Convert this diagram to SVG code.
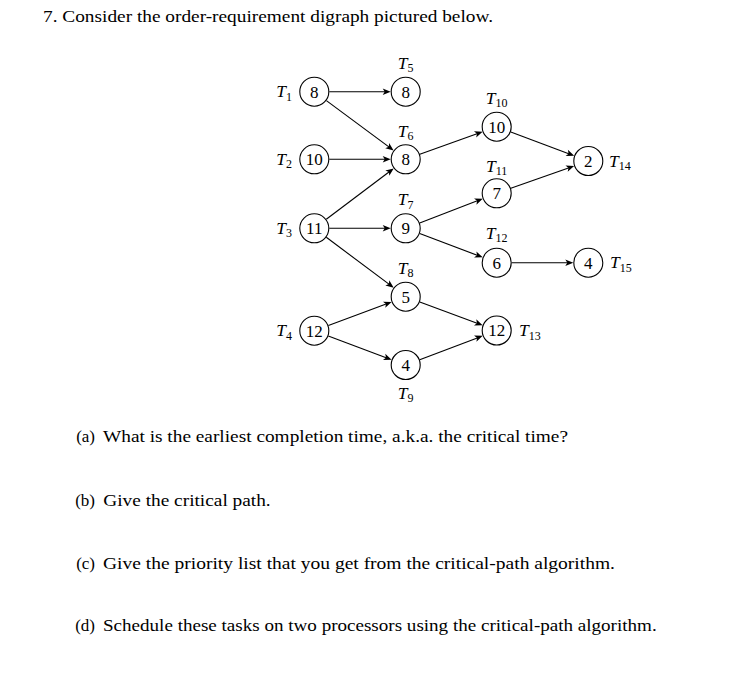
<svg xmlns="http://www.w3.org/2000/svg" width="749" height="697" viewBox="0 0 749 697">
<style>
.txt{font-family:"Liberation Serif","DejaVu Serif",serif;font-size:17px;fill:#000}
.num{font-family:"Liberation Serif","DejaVu Serif",serif;font-size:17px;fill:#000;text-anchor:middle}
.lab{font-family:"Liberation Serif","DejaVu Serif",serif;font-size:17.5px;fill:#000}
.lab .t{font-style:italic}
.lab .s{font-size:12px}
.node circle{fill:#fff;stroke:#000;stroke-width:1.1}
.edges line{stroke:#000;stroke-width:1.1;fill:none}
</style>
<defs>
<marker id="arr" viewBox="-6 -5 10 10" refX="0" refY="0" markerWidth="10" markerHeight="10" markerUnits="userSpaceOnUse" orient="auto">
<path d="M3,0 L-5,-3.3 L-3,0 L-5,3.3 Z" fill="#000"/>
</marker>
</defs>
<rect width="749" height="697" fill="#fff"/>
<text class="txt" x="43" y="22" textLength="450" lengthAdjust="spacingAndGlyphs">7. Consider the order-requirement digraph pictured below.</text>

<g class="edges">
<line x1="329.3" y1="91.7" x2="387.7" y2="91.7" marker-end="url(#arr)"/>
<line x1="326.4" y1="100.6" x2="391.2" y2="148.6" marker-end="url(#arr)"/>
<line x1="329.3" y1="159.3" x2="387.7" y2="159.3" marker-end="url(#arr)"/>
<line x1="326.3" y1="219.3" x2="391.3" y2="170.2" marker-end="url(#arr)"/>
<line x1="329.3" y1="228.3" x2="387.7" y2="228.3" marker-end="url(#arr)"/>
<line x1="326.3" y1="237.3" x2="391.3" y2="285.9" marker-end="url(#arr)"/>
<line x1="328.4" y1="325.5" x2="388.8" y2="303.0" marker-end="url(#arr)"/>
<line x1="328.3" y1="336.0" x2="388.8" y2="358.7" marker-end="url(#arr)"/>
<line x1="419.8" y1="154.2" x2="479.8" y2="132.8" marker-end="url(#arr)"/>
<line x1="419.7" y1="222.9" x2="479.9" y2="199.8" marker-end="url(#arr)"/>
<line x1="419.7" y1="233.6" x2="479.9" y2="256.3" marker-end="url(#arr)"/>
<line x1="510.8" y1="132.0" x2="571.4" y2="154.7" marker-end="url(#arr)"/>
<line x1="510.8" y1="188.3" x2="571.3" y2="167.0" marker-end="url(#arr)"/>
<line x1="511.7" y1="262.7" x2="570.3" y2="262.7" marker-end="url(#arr)"/>
<line x1="419.8" y1="301.9" x2="479.8" y2="324.2" marker-end="url(#arr)"/>
<line x1="419.7" y1="359.7" x2="479.9" y2="336.9" marker-end="url(#arr)"/>
</g>

<g id="T1" class="node"><circle cx="314.3" cy="91.7" r="14.5"/><text class="num" x="314.3" y="97.5">8</text><text class="lab" x="292" y="97" text-anchor="end"><tspan class="t">T</tspan><tspan class="s" dy="3.5">1</tspan></text></g>
<g id="T2" class="node"><circle cx="314.3" cy="159.3" r="14.5"/><text class="num" x="314.3" y="165.1">10</text><text class="lab" x="292" y="164.6" text-anchor="end"><tspan class="t">T</tspan><tspan class="s" dy="3.5">2</tspan></text></g>
<g id="T3" class="node"><circle cx="314.3" cy="228.3" r="14.5"/><text class="num" x="314.3" y="234.1">11</text><text class="lab" x="292" y="233.6" text-anchor="end"><tspan class="t">T</tspan><tspan class="s" dy="3.5">3</tspan></text></g>
<g id="T4" class="node"><circle cx="314.3" cy="330.7" r="14.5"/><text class="num" x="314.3" y="336.5">12</text><text class="lab" x="292" y="336" text-anchor="end"><tspan class="t">T</tspan><tspan class="s" dy="3.5">4</tspan></text></g>

<g id="T5" class="node"><circle cx="405.7" cy="91.7" r="14.5"/><text class="num" x="405.7" y="97.5">8</text><text class="lab" x="405.7" y="68.5" text-anchor="middle"><tspan class="t">T</tspan><tspan class="s" dy="3.5">5</tspan></text></g>
<g id="T6" class="node"><circle cx="405.7" cy="159.3" r="14.5"/><text class="num" x="405.7" y="165.1">8</text><text class="lab" x="405.7" y="136.5" text-anchor="middle"><tspan class="t">T</tspan><tspan class="s" dy="3.5">6</tspan></text></g>
<g id="T7" class="node"><circle cx="405.7" cy="228.3" r="14.5"/><text class="num" x="405.7" y="234.1">9</text><text class="lab" x="405.7" y="205" text-anchor="middle"><tspan class="t">T</tspan><tspan class="s" dy="3.5">7</tspan></text></g>
<g id="T8" class="node"><circle cx="405.7" cy="296.7" r="14.5"/><text class="num" x="405.7" y="302.5">5</text><text class="lab" x="405.7" y="273.5" text-anchor="middle"><tspan class="t">T</tspan><tspan class="s" dy="3.5">8</tspan></text></g>
<g id="T9" class="node"><circle cx="405.7" cy="365" r="14.5"/><text class="num" x="405.7" y="370.8">4</text><text class="lab" x="405.7" y="398.5" text-anchor="middle"><tspan class="t">T</tspan><tspan class="s" dy="3.5">9</tspan></text></g>

<g id="T10" class="node"><circle cx="496.7" cy="126.7" r="14.5"/><text class="num" x="496.7" y="132.5">10</text><text class="lab" x="496.7" y="103.5" text-anchor="middle"><tspan class="t">T</tspan><tspan class="s" dy="3.5">10</tspan></text></g>
<g id="T11" class="node"><circle cx="496.7" cy="193.3" r="14.5"/><text class="num" x="496.7" y="199.1">7</text><text class="lab" x="496.7" y="171.5" text-anchor="middle"><tspan class="t">T</tspan><tspan class="s" dy="3.5">11</tspan></text></g>
<g id="T12" class="node"><circle cx="496.7" cy="262.7" r="14.5"/><text class="num" x="496.7" y="268.5">6</text><text class="lab" x="496.7" y="238.5" text-anchor="middle"><tspan class="t">T</tspan><tspan class="s" dy="3.5">12</tspan></text></g>
<g id="T13" class="node"><circle cx="496.7" cy="330.5" r="14.5"/><text class="num" x="496.7" y="336.3">12</text><text class="lab" x="519" y="336"><tspan class="t">T</tspan><tspan class="s" dy="3.5">13</tspan></text></g>

<g id="T14" class="node"><circle cx="588.3" cy="161" r="14.5"/><text class="num" x="588.3" y="166.8">2</text><text class="lab" x="609" y="166.5"><tspan class="t">T</tspan><tspan class="s" dy="3.5">14</tspan></text></g>
<g id="T15" class="node"><circle cx="588.3" cy="262.7" r="14.5"/><text class="num" x="588.3" y="268.5">4</text><text class="lab" x="610" y="268.2"><tspan class="t">T</tspan><tspan class="s" dy="3.5">15</tspan></text></g>

<g id="questions">
<text class="txt" x="95" y="442" text-anchor="end">(a)</text>
<text class="txt" x="103" y="442" textLength="465" lengthAdjust="spacingAndGlyphs">What is the earliest completion time, a.k.a. the critical time?</text>
<text class="txt" x="95" y="506" text-anchor="end">(b)</text>
<text class="txt" x="103.3" y="506" textLength="167.4" lengthAdjust="spacingAndGlyphs">Give the critical path.</text>
<text class="txt" x="95" y="569" text-anchor="end">(c)</text>
<text class="txt" x="103" y="569" textLength="512" lengthAdjust="spacingAndGlyphs">Give the priority list that you get from the critical-path algorithm.</text>
<text class="txt" x="95" y="631" text-anchor="end">(d)</text>
<text class="txt" x="103" y="631" textLength="553.7" lengthAdjust="spacingAndGlyphs">Schedule these tasks on two processors using the critical-path algorithm.</text>
</g>
</svg>
